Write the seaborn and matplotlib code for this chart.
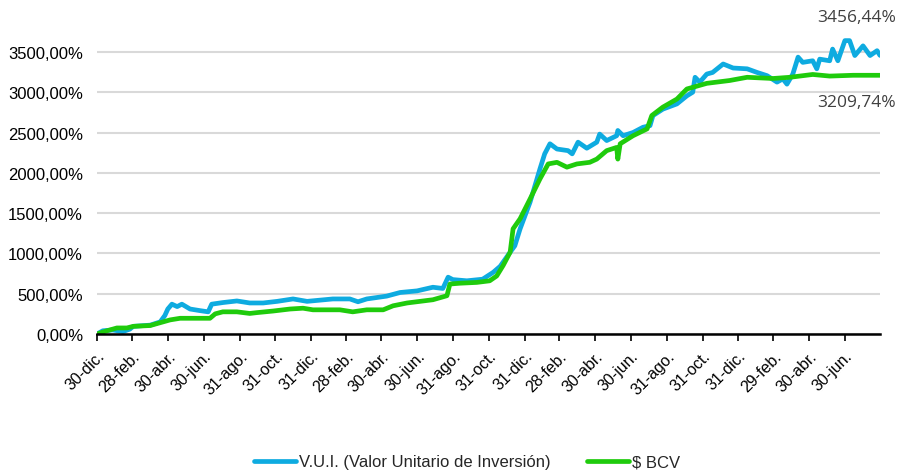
import pandas as pd
import matplotlib
matplotlib.use("Agg")
import matplotlib.pyplot as plt
from matplotlib.ticker import FuncFormatter
import seaborn as sns

# V.U.I. series (date, % accumulated)
vui_dates = [
    "2020-12-30", "2021-01-09", "2021-01-26", "2021-02-12", "2021-02-24", "2021-03-02",
    "2021-03-31", "2021-04-17", "2021-04-25", "2021-04-30", "2021-05-07", "2021-05-16",
    "2021-05-24", "2021-06-07", "2021-06-24", "2021-07-08", "2021-07-14", "2021-08-02",
    "2021-08-26", "2021-09-17", "2021-10-10", "2021-11-03", "2021-11-30", "2021-12-24",
    "2022-01-15", "2022-02-06", "2022-03-07", "2022-03-21", "2022-04-05", "2022-05-09",
    "2022-06-01", "2022-06-30", "2022-07-27", "2022-08-13", "2022-08-22", "2022-08-30",
    "2022-09-23", "2022-10-20", "2022-11-07", "2022-11-19", "2022-12-06", "2022-12-14",
    "2022-12-23", "2023-01-09", "2023-01-26", "2023-02-03", "2023-02-12", "2023-02-24",
    "2023-03-15", "2023-03-22", "2023-04-01", "2023-04-16", "2023-05-03", "2023-05-08",
    "2023-05-20", "2023-06-06", "2023-06-08", "2023-06-17", "2023-07-04", "2023-07-21",
    "2023-08-02", "2023-08-07", "2023-08-24", "2023-09-17", "2023-10-04", "2023-10-14",
    "2023-10-18", "2023-10-26", "2023-11-07", "2023-11-17", "2023-12-05", "2023-12-22",
    "2024-01-15", "2024-02-01", "2024-02-18", "2024-03-06", "2024-03-16", "2024-03-23",
    "2024-04-02", "2024-04-11", "2024-04-19", "2024-05-06", "2024-05-13", "2024-05-18",
    "2024-06-04", "2024-06-09", "2024-06-18", "2024-06-30", "2024-07-08", "2024-07-17",
    "2024-07-31", "2024-08-12", "2024-08-24", "2024-08-29",
]
vui_values = [
    0, 40, 50, 30, 60, 95,
    110, 150, 230, 310, 370, 340,
    370, 310, 290, 275, 370, 390,
    410, 385, 385, 405, 435, 405,
    420, 435, 435, 400, 435, 470,
    515, 535, 580, 565, 705, 675,
    660, 680, 765, 840, 1015, 1095,
    1305, 1635, 2050, 2235, 2360, 2295,
    2275, 2235, 2380, 2305, 2380, 2480,
    2400, 2460, 2525, 2460, 2500, 2565,
    2585, 2710, 2790, 2855, 2955, 3000,
    3185, 3125, 3225, 3245, 3350, 3300,
    3290, 3245, 3205, 3125, 3165, 3100,
    3225, 3435, 3370, 3390, 3290, 3410,
    3390, 3535, 3390, 3640, 3640, 3455,
    3575, 3455, 3515, 3456.44,
]

# $ BCV series
bcv_dates = [
    "2020-12-30", "2021-01-16", "2021-02-02", "2021-02-19", "2021-03-02", "2021-03-31",
    "2021-04-12", "2021-05-04", "2021-05-21", "2021-07-11", "2021-07-20", "2021-08-02",
    "2021-08-26", "2021-09-17", "2021-09-29", "2021-10-27", "2021-11-25", "2021-12-17",
    "2022-01-03", "2022-01-27", "2022-02-18", "2022-03-12", "2022-04-05", "2022-05-03",
    "2022-05-20", "2022-06-13", "2022-07-05", "2022-07-27", "2022-08-20", "2022-08-25",
    "2022-09-11", "2022-10-10", "2022-11-01", "2022-11-13", "2022-11-24", "2022-12-06",
    "2022-12-11", "2022-12-23", "2023-01-09", "2023-01-26", "2023-02-09", "2023-02-24",
    "2023-03-13", "2023-03-30", "2023-04-21", "2023-05-03", "2023-05-20", "2023-06-06",
    "2023-06-08", "2023-06-12", "2023-07-04", "2023-07-28", "2023-08-05", "2023-08-24",
    "2023-09-17", "2023-10-04", "2023-11-07", "2023-12-16", "2024-01-15", "2024-02-28",
    "2024-03-28", "2024-05-06", "2024-06-04", "2024-07-14", "2024-08-29",
]
bcv_values = [
    0, 40, 75, 75, 95, 105,
    130, 175, 195, 195, 250, 275,
    275, 255, 265, 285, 310, 320,
    300, 300, 300, 275, 300, 300,
    350, 385, 405, 425, 475, 620,
    630, 640, 660, 720, 850, 1015,
    1305, 1430, 1675, 1925, 2110, 2130,
    2070, 2110, 2130, 2170, 2275, 2315,
    2170, 2360, 2460, 2545, 2710, 2815,
    2915, 3040, 3110, 3145, 3185, 3170,
    3185, 3220, 3200, 3210, 3209.74,
]

tick_dates = [
    "2020-12-30", "2021-02-28", "2021-04-30", "2021-06-30", "2021-08-31", "2021-10-31",
    "2021-12-31", "2022-02-28", "2022-04-30", "2022-06-30", "2022-08-31", "2022-10-31",
    "2022-12-31", "2023-02-28", "2023-04-30", "2023-06-30", "2023-08-31", "2023-10-31",
    "2023-12-31", "2024-02-29", "2024-04-30", "2024-06-30",
]
tick_labels = [
    "30-dic.", "28-feb.", "30-abr.", "30-jun.", "31-ago.", "31-oct.",
    "31-dic.", "28-feb.", "30-abr.", "30-jun.", "31-ago.", "31-oct.",
    "31-dic.", "28-feb.", "30-abr.", "30-jun.", "31-ago.", "31-oct.",
    "31-dic.", "29-feb.", "30-abr.", "30-jun.",
]

VUI_LABEL = "V.U.I. (Valor Unitario de Inversión)"
BCV_LABEL = "$ BCV"

df = pd.concat([
    pd.DataFrame({"fecha": pd.to_datetime(vui_dates), "valor": vui_values, "serie": VUI_LABEL}),
    pd.DataFrame({"fecha": pd.to_datetime(bcv_dates), "valor": bcv_values, "serie": BCV_LABEL}),
])

sns.set_theme(style="white")
plt.rcParams["font.family"] = ["Liberation Sans Narrow", "Liberation Sans", "DejaVu Sans"]

f = plt.figure(figsize=(8.98, 4.77), dpi=100)
ax = f.add_axes([97 / 898, 1 - 335 / 477, (880 - 97) / 898, (335 - 12.6) / 477])

palette = {VUI_LABEL: "#0EABE0", BCV_LABEL: "#1FCB0C"}
sns.lineplot(data=df, x="fecha", y="valor", hue="serie", palette=palette,
             linewidth=3.4, ax=ax, legend=True)

ax.set_xlim(pd.Timestamp("2020-12-30"), pd.Timestamp("2024-08-29"))
ax.set_ylim(0, 4000)
ax.set_yticks(range(0, 4000, 500))
ax.yaxis.set_major_formatter(FuncFormatter(lambda v, p: f"{v:.2f}%".replace(".", ",")))
ax.set_xticks(pd.to_datetime(tick_dates))
ax.set_xticklabels(tick_labels, rotation=45, ha="right", rotation_mode="anchor",
                   fontsize=11.5, color="#000000")
ax.tick_params(axis="y", labelsize=12, length=0, pad=10, labelcolor="#000000")
ax.tick_params(axis="x", length=5, width=1.2, direction="out", bottom=True,
               color="#000000", pad=5)
ax.grid(True, axis="y", color="#D9D9D9", linewidth=1.5)
ax.grid(False, axis="x")
for s in ["top", "right", "left"]:
    ax.spines[s].set_visible(False)
ax.spines["bottom"].set_color("#000000")
ax.spines["bottom"].set_linewidth(1.8)
ax.set(xlabel="", ylabel="")

f.text(896 / 898, 1 - 18 / 477, "3456,44%", ha="right", va="center",
       fontsize=12.5, color="#404040", family=["Open Sans", "DejaVu Sans"])
f.text(896 / 898, 1 - 103 / 477, "3209,74%", ha="right", va="center",
       fontsize=12.5, color="#404040", family=["Open Sans", "DejaVu Sans"])

ax.legend(title=None, loc="center", bbox_to_anchor=(0.4726, -0.397), ncol=2, frameon=False,
          fontsize=12, handlelength=2.5, handletextpad=0.2, columnspacing=2.2)

f.savefig("out.png", dpi=100)
